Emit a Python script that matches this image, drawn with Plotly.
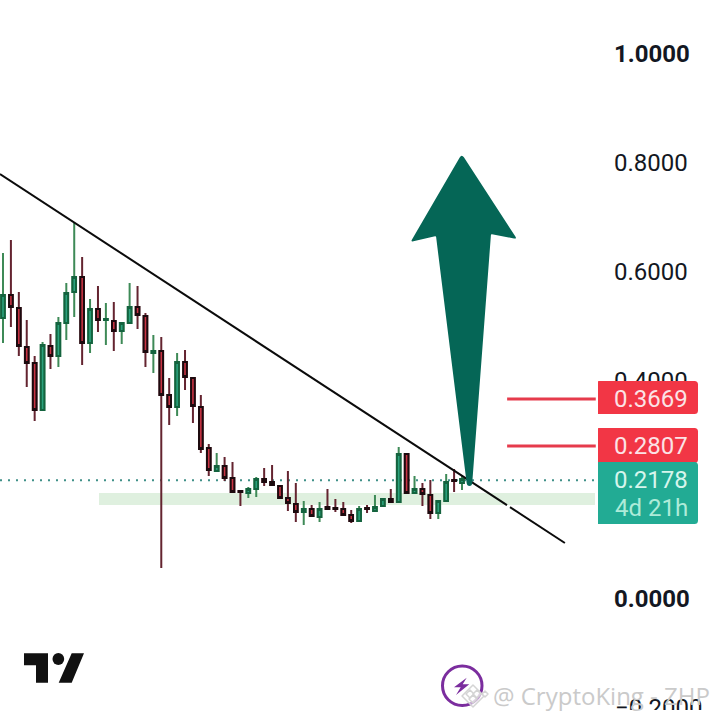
import plotly.graph_objects as go

# Candle values
opens = [.5156,.5578,.5340,.4624,.4330,.3468,.4642,.4459,.5064,.5633,.5908,.4697,.5321,.5119,.5101,.4918,.5064,.5358,.5193,.4514,
         .4551,.3743,.3523,.4349,.4055,.3523,.2771,.2349,.2440,.2220,.1982,.1945,.2018,.2202,.2147,.2073,.1853,.1743,.1596,.1651,
         .1505,.1688,.1670,.1651,.1541,.1431,.1670,.1615,.1706,.1835,.1780,.2661,.1945,.2018,.1908,.1578,.1798,.2184,.2128]
highs = [.6349,.6587,.5633,.5119,.4459,.4716,.4862,.5174,.5798,.6899,.6275,.5505,.5743,.5431,.5450,.5083,.5798,.5743,.5248,.4844,
         .4807,.4055,.4514,.4569,.4055,.3743,.2844,.2679,.2606,.2514,.1982,.2055,.2239,.2404,.2459,.2073,.2349,.2128,.1798,.1725,
         .1780,.2018,.1835,.1780,.1633,.1706,.1725,.1908,.1853,.2018,.2789,.2679,.2257,.2128,.2184,.1798,.2294,.2385,.2275]
lows = [.4697,.4991,.4459,.3890,.3266,.3468,.4220,.4257,.4752,.5174,.4294,.4514,.4899,.4661,.4551,.4679,.5046,.4954,.4257,.4147,
        .0569,.3193,.3358,.3835,.3229,.2679,.2257,.2330,.2165,.1945,.1706,.1853,.1872,.2073,.2092,.1835,.1615,.1413,.1358,.1505,
        .1413,.1651,.1596,.1523,.1395,.1431,.1578,.1596,.1688,.1761,.1780,.1927,.1945,.1706,.1468,.1468,.1798,.1963,.2000]
closes = [.5578,.5358,.4642,.4330,.3468,.4661,.4459,.5064,.5615,.5908,.4697,.5321,.5119,.5138,.4918,.5064,.5358,.5211,.4532,.4551,
          .3743,.3523,.4349,.4073,.3541,.2752,.2367,.2440,.2220,.1963,.1963,.2018,.2202,.2147,.2092,.1853,.1761,.1596,.1651,.1523,
          .1651,.1651,.1651,.1541,.1431,.1651,.1651,.1688,.1835,.1780,.2661,.1945,.2018,.1927,.1578,.1798,.2147,.2165,.2202]
candle_x = list(range(len(opens)))

tick_vals = [1.0, 0.8, 0.6, 0.4, 0.0]
tick_text = ["<b>1.0000</b>", "0.8000", "0.6000", "0.4000", "<b>0.0000</b>"]
cut_tick_val = -0.2
cut_tick_text = "−0.2000"

level_high = 0.3669
level_mid = 0.2807
last_price = 0.2178
countdown = "4d 21h"
zone_low, zone_high = 0.1725, 0.1945
trend_x = [-0.38, 63.68, None, 64.06, 71.0]
trend_y = [0.7798, 0.1722, None, 0.1686, 0.1028]

RED = "#F23645"
TEAL = "#22AB94"
FONT = "Roboto"


def X(px):
    return px / 720


def Y(py):
    return 1 - py / 720


def rounded(points, radii):
    """SVG path in paper fractions for a polygon given in page pixels."""
    n = len(points)
    parts = []
    for i in range(n):
        p, a, b = points[i], points[i - 1], points[(i + 1) % n]
        r = radii[i] if isinstance(radii, (list, tuple)) else radii

        def toward(q):
            dx, dy = q[0] - p[0], q[1] - p[1]
            d = (dx * dx + dy * dy) ** 0.5
            k = min(r, d / 2) / d
            return p[0] + dx * k, p[1] + dy * k

        s, e = toward(a), toward(b)
        parts.append(f"{'M' if i == 0 else 'L'} {X(s[0]):.5f} {Y(s[1]):.5f}")
        parts.append(f"Q {X(p[0]):.5f} {Y(p[1]):.5f} {X(e[0]):.5f} {Y(e[1]):.5f}")
    return " ".join(parts) + " Z"


def poly(points, color, radii=0.01, layer="above"):
    return dict(type="path", xref="paper", yref="paper", path=rounded(points, radii),
                fillcolor=color, line=dict(width=0), layer=layer)


def rect_tag(y0, y1, color):
    return poly([(598, y0), (698, y0), (698, y1), (598, y1)], color, [0.5, 3.5, 3.5, 0.5])


fig = go.Figure()
fig.add_trace(go.Candlestick(
    x=candle_x, open=opens, high=highs, low=lows, close=closes, whiskerwidth=0,
    increasing=dict(line=dict(color="#3E8A57", width=2), fillcolor="#3E8A57"),
    decreasing=dict(line=dict(color="#642430", width=2), fillcolor="#642430"),
    hoverinfo="skip", showlegend=False))
fig.add_trace(go.Candlestick(
    x=candle_x, open=opens, close=closes,
    high=[max(a, b) for a, b in zip(opens, closes)],
    low=[min(a, b) for a, b in zip(opens, closes)],
    whiskerwidth=0,
    increasing=dict(line=dict(color="#14633F", width=2), fillcolor="#2BA27C"),
    decreasing=dict(line=dict(color="#1C0A0E", width=2), fillcolor="#C93444"),
    hoverinfo="skip", showlegend=False))
fig.add_trace(go.Scatter(x=trend_x, y=trend_y, mode="lines", line=dict(color="#0B0B0B", width=2),
                         hoverinfo="skip", showlegend=False))

shapes = [
    dict(type="rect", xref="x", yref="y", x0=12.13, x1=74.8, y0=zone_low, y1=zone_high,
         fillcolor="#DFF0DF", line=dict(width=0), layer="below"),
    dict(type="line", xref="x", yref="y", x0=-0.38, x1=75.0, y0=last_price, y1=last_price,
         line=dict(color="#3F9088", width=2, dash="2px,6px"), layer="below"),
    dict(type="line", xref="x", yref="y", x0=63.7, x1=74.9, y0=level_high, y1=level_high,
         line=dict(color="#E63B4C", width=3)),
    dict(type="line", xref="x", yref="y", x0=63.7, x1=74.9, y0=level_mid, y1=level_mid,
         line=dict(color="#E63B4C", width=3)),
    # big arrow
    poly([(461.7, 154), (517, 239), (491, 234), (472, 486), (467, 486), (436, 236), (410.5, 242)],
         "#056656", [4, 3, 1, 3, 3, 1, 3]),
    # price tags
    rect_tag(381, 414, RED),
    rect_tag(428, 463, RED),
    rect_tag(462, 524, TEAL),
    # TradingView logo
    poly([(24, 653.3), (48, 653.3), (48, 682.7), (36, 682.7), (36, 665.3), (24, 665.3)], "#111111"),
    dict(type="circle", xref="paper", yref="paper", x0=X(52.5), x1=X(64.2), y0=Y(653), y1=Y(665),
         fillcolor="#111111", line=dict(width=0)),
    poly([(71.7, 653.3), (84, 653.3), (71.7, 682.7), (58.7, 682.7)], "#111111"),
    # purple badge
    dict(type="circle", xref="paper", yref="paper", x0=X(442.5), x1=X(482), y0=Y(666), y1=Y(705.5),
         fillcolor="rgba(0,0,0,0)", line=dict(color="#7B2D9E", width=3)),
    poly([(466.7, 677.7), (454, 687.3), (460.7, 687.3), (456, 695), (469.3, 684.3), (462.7, 684.3)], "#7B2D9E"),
]
# faint watermark diamonds
for cx, cy, r in [(473, 696, 11), (470, 694, 4), (477, 694, 4), (473, 699, 4), (485, 694, 3)]:
    shapes.append(dict(type="path", xref="paper", yref="paper",
                       path=rounded([(cx, cy - r), (cx + r, cy), (cx, cy + r), (cx - r, cy)], 0.01),
                       fillcolor="rgba(255,255,255,0.55)", line=dict(color="#D4D4D4", width=1.5)))


def tag_text(text, py, color):
    return dict(text=text, xref="paper", yref="paper", x=X(690), y=Y(py), xanchor="right", yanchor="middle",
                showarrow=False, font=dict(family=FONT, size=24, color=color))


annotations = [
    tag_text(f"{level_high:.4f}", 399, "#FBE3E6"),
    tag_text(f"{level_mid:.4f}", 446, "#FBE3E6"),
    tag_text(f"{last_price:.4f}", 480, "#D6F5EC"),
    tag_text(countdown, 508, "#AEEBD9"),
    # bottom axis label, cropped by the white strip that follows
    dict(text=cut_tick_text, xref="paper", yref="y", x=X(613), y=cut_tick_val, xanchor="left", yanchor="middle",
         showarrow=False, font=dict(family=FONT, size=24, color="#131722")),
    dict(text=" ", xref="paper", yref="paper", x=0, y=0, xanchor="left", yanchor="bottom",
         showarrow=False, width=720, height=10, bgcolor="white", borderpad=0, borderwidth=0,
         font=dict(family=FONT, size=4, color="white")),
    dict(text="@ CryptoKing - ZHP", xref="paper", yref="paper", x=X(491), y=Y(695), xanchor="left", yanchor="middle",
         showarrow=False, font=dict(family="Open Sans", size=24, color="#CACACA")),
]

fig.update_layout(
    width=720, height=720, margin=dict(l=0, r=0, t=0, b=0),
    paper_bgcolor="white", plot_bgcolor="white",
    boxmode="overlay", boxgap=0.35, dragmode=False, showlegend=False,
    xaxis=dict(type="linear", domain=[0, 613 / 720], range=[-0.379, (613 - 3) / 7.914], visible=False,
               showgrid=False, zeroline=False, rangeslider=dict(visible=False), fixedrange=True),
    yaxis=dict(range=[-0.2220, 1.0991], side="right", anchor="x", tickmode="array", tickvals=tick_vals,
               ticktext=tick_text, ticks="", showgrid=False, zeroline=False,
               showline=False, fixedrange=True, tickfont=dict(family=FONT, size=24, color="#131722")),
    shapes=shapes, annotations=annotations,
)
fig.write_html("out.html", config=dict(displayModeBar=False),
               post_script=("document.body.style.margin='0';document.body.style.overflow='hidden';"
                            "document.documentElement.style.overflow='hidden';"
                            "document.querySelectorAll('.plotly-graph-div,.svg-container,.main-svg')"
                            ".forEach(function(e){e.style.overflow='hidden';});"))
